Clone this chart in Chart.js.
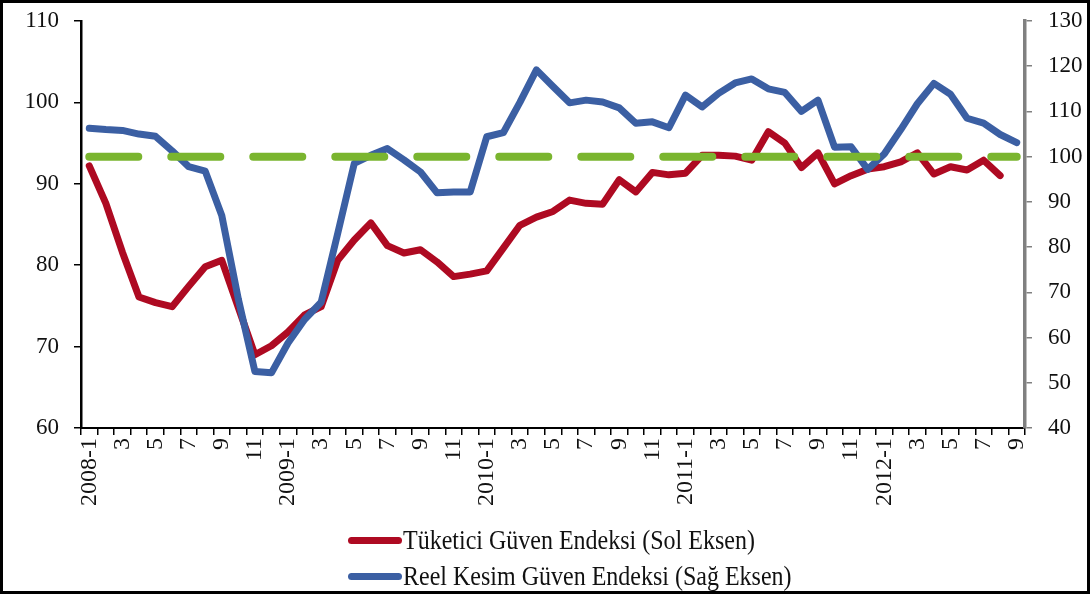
<!DOCTYPE html>
<html>
<head>
<meta charset="utf-8">
<script src="https://cdn.jsdelivr.net/npm/chart.js@4.4.0/dist/chart.umd.min.js"></script>
<style>
  html, body { margin: 0; padding: 0; background: #fff; }
  #wrap { position: relative; width: 1090px; height: 594px; overflow: hidden; }
  #chart { position: absolute; left: 0; top: 0; }
  #frame { position: absolute; left: 0; top: 0; width: 1090px; height: 594px;
           box-sizing: border-box; border: 3px solid #000; pointer-events: none; }
  .legend-row { position: absolute; left: 348px; height: 30px; display: flex; align-items: center;
                font-family: "Liberation Serif", serif; font-size: 24px; color: #111; white-space: nowrap; }
  .legend-row .swatch { display: inline-block; width: 54px; height: 7px; border-radius: 3.5px; margin-right: 1px; }
  .legend-row .txt { display: inline-block; transform: scaleY(1.15); }
</style>
</head>
<body>
<div id="wrap">
  <canvas id="chart" width="1090" height="594"></canvas>
  <div class="legend-row" style="top:525px"><span class="swatch" style="background:#AE0A22"></span><span class="txt">Tüketici Güven Endeksi (Sol Eksen)</span></div>
  <div class="legend-row" style="top:561px"><span class="swatch" style="background:#3B5FA3"></span><span class="txt">Reel Kesim Güven Endeksi (Sağ Eksen)</span></div>
  <div id="frame"></div>
</div>
<script>
// Tüketici ve Reel Kesim Güven Endeksleri, 2008-1 .. 2012-9

const months = [
  "2008-1","2","3","4","5","6","7","8","9","10","11","12",
  "2009-1","2","3","4","5","6","7","8","9","10","11","12",
  "2010-1","2","3","4","5","6","7","8","9","10","11","12",
  "2011-1","2","3","4","5","6","7","8","9","10","11","12",
  "2012-1","2","3","4","5","6","7","8","9"
];

// Tüketici Güven Endeksi (sol eksen)
const tuketici = [
  92.2, 87.6, 81.6, 76.1, 75.4, 74.9, 77.4, 79.8, 80.6, 74.8, 69.0, 70.1,
  71.8, 73.9, 74.9, 80.6, 83.1, 85.2, 82.4, 81.5, 81.9, 80.4, 78.6, 78.9,
  79.3, 82.1, 84.9, 85.9, 86.6, 88.0, 87.6, 87.5, 90.5, 89.0, 91.4, 91.1,
  91.3, 93.5, 93.5, 93.4, 92.9, 96.4, 95.0, 92.0, 93.8, 90.0, 91.0, 91.8,
  92.1, 92.7, 93.8, 91.2, 92.1, 91.7, 92.9, 91.0, null
];

// Reel Kesim Güven Endeksi (sağ eksen)
const reelKesim = [
  106.3, 106.0, 105.8, 105.0, 104.5, 101.3, 97.8, 96.8, 87.0, 68.5, 52.5, 52.2,
  58.8, 64.0, 67.8, 83.0, 98.5, 100.3, 101.8, 99.3, 96.6, 92.0, 92.2, 92.2,
  104.4, 105.3, 112.0, 119.2, 115.5, 111.9, 112.5, 112.1, 110.8, 107.4, 107.7, 106.4,
  113.6, 111.0, 114.0, 116.3, 117.2, 115.0, 114.2, 110.0, 112.5, 102.1, 102.2, 97.2,
  100.6, 106.0, 111.7, 116.2, 113.8, 108.5, 107.4, 104.9, 103.1
];

// 100 eşik çizgisi (sağ eksen)
const esik = [
  100, 100, 100, 100, 100, 100, 100, 100, 100, 100, 100, 100,
  100, 100, 100, 100, 100, 100, 100, 100, 100, 100, 100, 100,
  100, 100, 100, 100, 100, 100, 100, 100, 100, 100, 100, 100,
  100, 100, 100, 100, 100, 100, 100, 100, 100, 100, 100, 100,
  100, 100, 100, 100, 100, 100, 100, 100, 100
];

const leftTicks = [60, 70, 80, 90, 100, 110];
const rightTicks = [40, 50, 60, 70, 80, 90, 100, 110, 120, 130];

const yFont = { family: "Liberation Serif", size: 23 };
const xFont = { family: "Liberation Serif", size: 24 };

// fixed axis sizes, no extra label overflow padding
function fixWidth(w) {
  return function (scale) {
    scale.width = w;
    scale.paddingTop = 0;
    scale.paddingBottom = 0;
  };
}

const ctx = document.getElementById("chart").getContext("2d");

new Chart(ctx, {
  type: "line",
  data: {
    labels: months,
    datasets: [
      {
        label: "Eşik",
        data: esik,
        yAxisID: "yR",
        borderColor: "#7AB52F",
        borderWidth: 8,
        borderDash: [49, 33],
        borderCapStyle: "round",
        pointRadius: 0,
        tension: 0
      },
      {
        label: "Reel Kesim Güven Endeksi (Sağ Eksen)",
        data: reelKesim,
        yAxisID: "yR",
        borderColor: "#3B5FA3",
        borderWidth: 7,
        borderJoinStyle: "round",
        borderCapStyle: "round",
        pointRadius: 0,
        tension: 0
      },
      {
        label: "Tüketici Güven Endeksi (Sol Eksen)",
        data: tuketici,
        yAxisID: "yL",
        borderColor: "#AE0A22",
        borderWidth: 7,
        borderJoinStyle: "round",
        borderCapStyle: "round",
        pointRadius: 0,
        tension: 0
      }
    ]
  },
  options: {
    responsive: false,
    animation: false,
    events: [],
    layout: { padding: { top: 21, left: 0, right: 0, bottom: 0 } },
    scales: {
      x: {
        offset: true,
        grid: { display: true, drawOnChartArea: false, drawTicks: true, tickLength: 7,
                color: "#000", lineWidth: 1.5, offset: true },
        border: { display: true, color: "#000", width: 2 },
        ticks: {
          autoSkip: false,
          minRotation: 90,
          maxRotation: 90,
          padding: 3,
          color: "#111",
          font: xFont,
          callback: function (value, index) {
            return index % 2 === 0 ? months[index] : "";
          }
        },
        afterFit: function (scale) {
          scale.height = 166;
          scale.paddingLeft = 0;
          scale.paddingRight = 0;
        }
      },
      yL: {
        position: "left",
        min: 60,
        max: 110,
        afterBuildTicks: function (scale) {
          scale.ticks = leftTicks.map(function (v) { return { value: v }; });
        },
        grid: { display: true, drawOnChartArea: false, drawTicks: true, tickLength: 7,
                color: "#000", lineWidth: 1.5 },
        border: { display: true, color: "#000", width: 2.5 },
        ticks: { color: "#111", font: yFont, padding: 15 },
        afterFit: fixWidth(81)
      },
      yR: {
        position: "right",
        min: 40,
        max: 130,
        afterBuildTicks: function (scale) {
          scale.ticks = rightTicks.map(function (v) { return { value: v }; });
        },
        grid: { display: true, drawOnChartArea: false, drawTicks: true, tickLength: 7,
                color: "#808080", lineWidth: 1.5 },
        border: { display: true, color: "#808080", width: 3.5 },
        ticks: { color: "#111", font: yFont, padding: 16 },
        afterFit: fixWidth(65)
      }
    },
    plugins: {
      legend: { display: false },
      tooltip: { enabled: false }
    }
  }
});
</script>
</body>
</html>
